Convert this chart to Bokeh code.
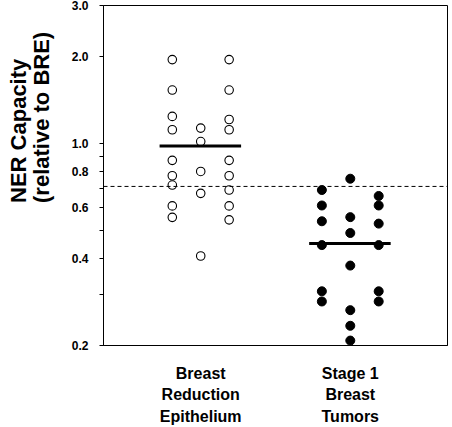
import math
from bokeh.plotting import figure
from bokeh.layouts import row
from bokeh.models import Range1d, FixedTicker, Span
from bokeh.core.properties import value
from bokeh.embed import file_html
from bokeh.resources import INLINE

# ---- data ----
groups = ["Breast\nReduction\nEpithelium", "Stage 1\nBreast\nTumors"]
col_offsets = [-0.19, 0.0, 0.19]

bre_cols = [
    [1.95, 1.53, 1.24, 1.115, 0.874, 0.773, 0.718, 0.608, 0.555],
    [1.13, 1.015, 0.80, 0.672, 0.408],
    [1.95, 1.53, 1.21, 1.115, 0.874, 0.773, 0.69, 0.608, 0.544],
]
tumor_cols = [
    [0.69, 0.61, 0.538, 0.445, 0.308, 0.284],
    [0.755, 0.556, 0.49, 0.378, 0.265, 0.234, 0.208],
    [0.658, 0.61, 0.528, 0.445, 0.308, 0.284],
]
means = [0.98, 0.451]
threshold = 0.71

y_ticks = [0.2, 0.4, 0.6, 0.8, 1.0, 2.0, 3.0]
y_tick_labels = ["0.2", "0.4", "0.6", "0.8", "1.0", "2.0", "3.0"]
y_minor = [0.3, 0.5, 0.7, 0.9]
y_title_lines = ["NER Capacity", "(relative to BRE)"]

FONT = "Liberation Sans"
W, H = 452, 427
TW = 56  # width of the strip holding the y title

# ---- y title strip ----
t = figure(width=TW, height=H, x_range=Range1d(0, TW), y_range=Range1d(0, H),
           output_backend="svg", toolbar_location=None,
           min_border_left=0, min_border_right=0, min_border_top=0,
           min_border_bottom=0)
t.axis.visible = False
t.grid.visible = False
t.outline_line_color = None
t.text(x=[17.5, 41], y=[H - 248, H - 248], text=y_title_lines,
       angle=math.pi / 2, text_align="left", text_baseline="middle",
       text_font=value(FONT), text_font_style="bold",
       text_font_size="22px", text_color="black")

# ---- main plot ----
p = figure(width=W - TW, height=H, y_axis_type="log",
           x_range=Range1d(-0.65, 1.65), y_range=Range1d(0.2, 3.0),
           output_backend="svg", toolbar_location=None,
           min_border_left=103 - TW, min_border_right=5, min_border_top=5,
           min_border_bottom=77)
p.grid.visible = False
p.outline_line_color = "black"
p.outline_line_width = 1
p.outline_line_alpha = 1

for gi, cols in enumerate([bre_cols, tumor_cols]):
    xs, ys = [], []
    for off, vals in zip(col_offsets, cols):
        xs += [gi + off] * len(vals)
        ys += vals
    if gi == 0:
        p.scatter(xs, ys, size=8.5, marker="circle", fill_color="white",
                  line_color="black", line_width=1.1)
    else:
        p.scatter(xs, ys, size=9, marker="circle", fill_color="black",
                  line_color="black", line_width=1)

for gi, m in enumerate(means):
    p.segment(x0=[gi - 0.275], x1=[gi + 0.27], y0=[m], y1=[m],
              line_color="black", line_width=3)

p.add_layout(Span(location=threshold, dimension="width", line_color="black",
                  line_width=1, line_dash="4 3"))

ya = p.yaxis[0]
ya.ticker = FixedTicker(ticks=y_ticks, minor_ticks=y_minor)
ya.major_label_overrides = {tk: l for tk, l in zip(y_ticks, y_tick_labels)}
ya.major_label_text_font = FONT
ya.major_label_text_font_style = "bold"
ya.major_label_text_font_size = "12px"
ya.major_label_text_color = "black"
ya.major_label_standoff = 11
ya.major_tick_out = 4
ya.major_tick_in = 0
ya.minor_tick_out = 4
ya.minor_tick_in = 0
ya.axis_line_color = "black"
ya.major_tick_line_color = "black"
ya.minor_tick_line_color = "black"

xa = p.xaxis[0]
xa.ticker = FixedTicker(ticks=[0, 1])
xa.major_label_overrides = {i: g for i, g in enumerate(groups)}
xa.major_label_text_font = FONT
xa.major_label_text_font_style = "bold"
xa.major_label_text_font_size = "16px"
xa.major_label_text_color = "black"
xa.major_label_text_line_height = 1.27
xa.major_label_standoff = 13
xa.major_tick_line_color = None
xa.minor_tick_line_color = None
xa.axis_line_color = "black"

layout = row(t, p, spacing=0)
open("out.html", "w").write(file_html(layout, INLINE))
